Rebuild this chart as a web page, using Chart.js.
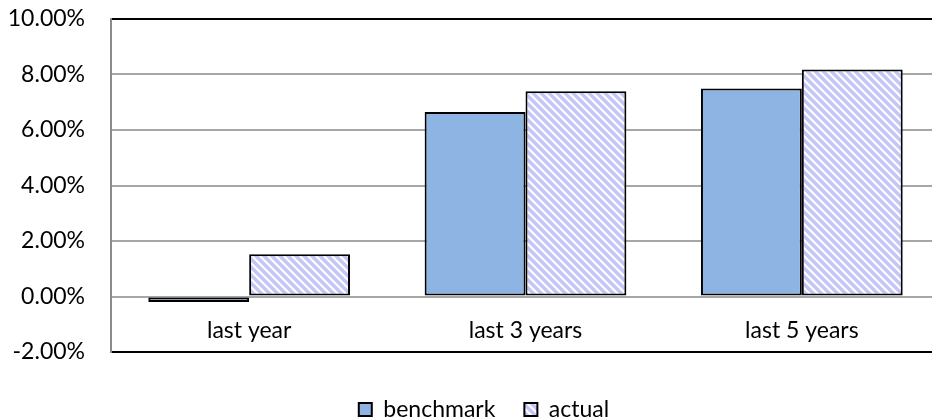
<!DOCTYPE html>
<html>
<head>
<meta charset="utf-8">
<script src="https://cdn.jsdelivr.net/npm/chart.js@4.4.1/dist/chart.umd.min.js"></script>
<style>
  html, body { margin: 0; padding: 0; background: #fff; overflow: hidden; }
  #wrap { width: 932px; height: 418px; overflow: hidden; }
</style>
</head>
<body>
<div id="wrap"><canvas id="chart" width="940" height="418"></canvas></div>
<script>
// data
const categories = ['last year', 'last 3 years', 'last 5 years'];
const benchmark = [-0.2, 6.65, 7.5];
const actual = [1.52, 7.4, 8.18];
const yTicks = [-2, 0, 2, 4, 6, 8, 10];

const FONT = 'Lato';

// hatch fill for "actual"
function makeHatch() {
  const c = document.createElement('canvas');
  c.width = 8; c.height = 8;
  const g = c.getContext('2d');
  g.fillStyle = '#ffffff';
  g.fillRect(0, 0, 8, 8);
  g.strokeStyle = '#c3c6f6';
  g.lineWidth = 3.5;
  for (const k of [-8, 0, 8]) {
    g.beginPath();
    g.moveTo(k - 1, -1);
    g.lineTo(k + 9, 9);
    g.stroke();
  }
  return g.createPattern(c, 'repeat');
}

// legend is centred on the whole picture, not on the canvas (canvas runs past the right edge)
const shiftLegend = {
  id: 'shiftLegend',
  afterLayout(chart) {
    chart.legend.left += 14;
    chart.legend.right += 14;
  },
};

const ctx = document.getElementById('chart').getContext('2d');
const hatch = makeHatch();

new Chart(ctx, {
  type: 'bar',
  data: {
    labels: categories,
    datasets: [
      {
        label: 'benchmark',
        data: benchmark,
        backgroundColor: '#8eb4e3',
        borderColor: '#000',
        borderWidth: 2,
        borderSkipped: false,
      },
      {
        label: 'actual',
        data: actual,
        backgroundColor: hatch,
        borderColor: '#000',
        borderWidth: 2,
        borderSkipped: false,
      },
    ],
  },
  plugins: [shiftLegend],
  options: {
    responsive: false,
    animation: false,
    devicePixelRatio: 1,
    layout: { padding: { left: 0, right: 0, top: 19, bottom: -13 } },
    datasets: { bar: { categoryPercentage: 0.73, barPercentage: 1 } },
    plugins: {
      tooltip: { enabled: false },
      legend: {
        position: 'bottom',
        labels: {
          boxWidth: 13,
          boxHeight: 13,
          padding: 29,
          color: '#000',
          font: { family: FONT, size: 23 },
        },
      },
    },
    scales: {
      x: {
        position: { y: 0 },
        grid: { display: false, drawTicks: false },
        border: { display: false },
        ticks: { color: '#000', padding: 20, font: { family: FONT, size: 23 } },
      },
      x2: {
        type: 'category',
        labels: categories,
        position: 'bottom',
        grid: { display: false, drawTicks: false },
        border: { display: false },
        ticks: { display: false },
        afterFit(scale) { scale.height = 17; },
      },
      y: {
        min: -2,
        max: 10,
        afterBuildTicks(scale) {
          scale.ticks = yTicks.map(v => ({ value: v }));
        },
        afterFit(scale) {
          scale.width = 111;
          scale.paddingTop = 0;
          scale.paddingBottom = 0;
        },
        grid: {
          drawTicks: false,
          lineWidth: 2,
          color: c => (c.tick && (c.tick.value === 10 || c.tick.value === -2)) ? '#000' : '#a6a6a6',
        },
        border: { color: '#8c8c8c', width: 2 },
        ticks: {
          color: '#000',
          padding: 26,
          font: { family: FONT, size: 23 },
          callback: v => v.toFixed(2) + '%',
        },
      },
    },
  },
});
</script>
</body>
</html>
